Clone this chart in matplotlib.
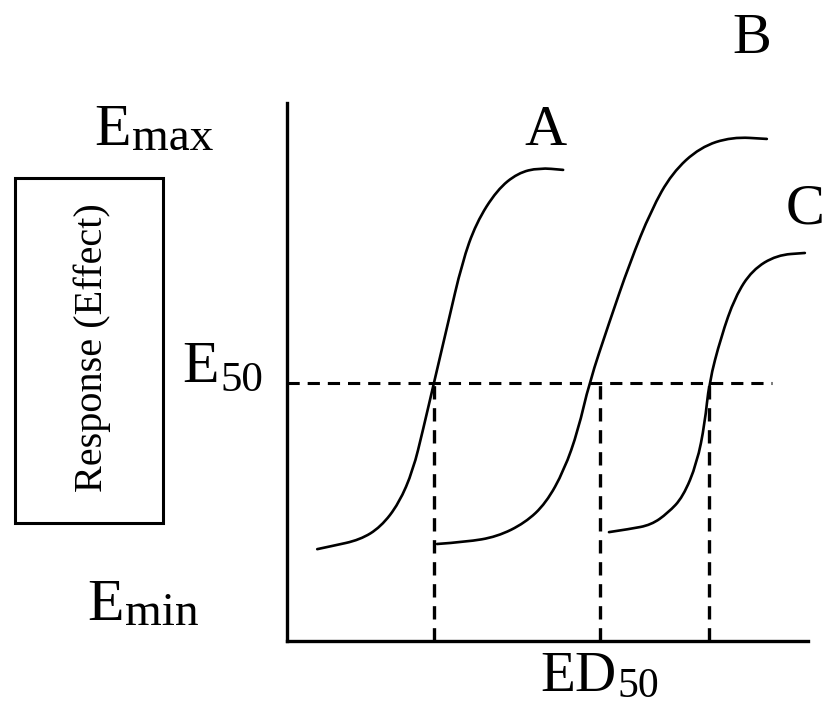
import matplotlib
matplotlib.use("Agg")
import matplotlib.pyplot as plt
from matplotlib.path import Path
from matplotlib.patches import PathPatch, Rectangle

plt.rcParams["font.family"] = ["Liberation Serif", "DejaVu Serif"]

# log dose vs response for three agonists
dose_a = [0.58, 0.86, 1.40, 1.80, 2.15, 2.42, 2.61, 2.82, 3.09, 3.36, 3.63, 4.03, 4.43, 4.84, 5.30]
resp_a = [17.8, 18.4, 19.6, 22.1, 26.7, 33.1, 40.9, 50.0, 61.6, 73.3, 81.0, 87.4, 90.7, 91.7, 91.3]

dose_b = [2.88, 3.44, 4.03, 4.57, 4.97, 5.32, 5.59, 5.80, 6.18, 6.58, 6.99, 7.39, 7.93, 8.54, 9.21]
resp_b = [18.8, 19.2, 20.2, 22.9, 26.7, 33.1, 40.9, 50.0, 61.6, 73.3, 83.5, 90.7, 95.7, 97.7, 97.3]

dose_c = [6.18, 6.58, 6.99, 7.31, 7.60, 7.87, 8.02, 8.10, 8.33, 8.60, 8.93, 9.40, 9.94]
resp_c = [21.1, 21.7, 22.5, 24.8, 27.9, 34.5, 42.2, 50.0, 58.9, 66.7, 71.9, 74.8, 75.2]

e50 = 50.0
e50_end = 9.31
ed50 = [2.82, 6.01, 8.10]

fig = plt.figure(figsize=(8.29, 7.07), dpi=100)
W, H = 829, 707
renderer = fig.canvas.get_renderer()


def fx(px):
    return px / W


def fy(py):
    return 1 - py / H


ax = fig.add_axes([fx(287), fy(641), fx(808) - fx(287), fy(103) - fy(641)])
ax.set_xlim(0, 10)
ax.set_ylim(0, (641 - 103) / 5.16)
for s in ["top", "right"]:
    ax.spines[s].set_visible(False)
for s in ["left", "bottom"]:
    ax.spines[s].set_linewidth(2.4)
ax.set_xticks([])
ax.set_yticks([])


def smooth_curve(x, y):
    # quadratic bezier through midpoints, so the sigmoid reads smooth
    pts = list(zip(x, y))
    verts = [pts[0]]
    codes = [Path.MOVETO]
    for i in range(1, len(pts) - 1):
        mx = (pts[i][0] + pts[i + 1][0]) / 2
        my = (pts[i][1] + pts[i + 1][1]) / 2
        verts += [pts[i], (mx, my)]
        codes += [Path.CURVE3, Path.CURVE3]
    verts.append(pts[-1])
    codes.append(Path.LINETO)
    return PathPatch(Path(verts, codes), fill=False, lw=1.9, color="black",
                     capstyle="round", zorder=3)


for dx, ry in [(dose_a, resp_a), (dose_b, resp_b), (dose_c, resp_c)]:
    ax.add_patch(smooth_curve(dx, ry))

dash = (0, (4, 2.6))
ax.plot([0, e50_end], [e50, e50], color="black", lw=2.2, linestyle=dash, zorder=2)
for d in ed50:
    ax.plot([d, d], [0, e50], color="black", lw=2.4, linestyle=dash, zorder=2)

# curve labels
fig.text(fx(752), fy(53), "B", fontsize=42, ha="center", va="baseline")
fig.text(fx(545), fy(145), "A", fontsize=42, ha="center", va="baseline")
fig.text(fx(786), fy(223), "C", fontsize=42, ha="left", va="baseline")


def sub_label(px, py, main, sub, size=43, subsize=34, drop=7, gap=2):
    t = fig.text(fx(px), fy(py), main, fontsize=size, ha="left", va="baseline")
    bb = t.get_window_extent(renderer)
    fig.text((bb.x1 + gap) / W, fy(py + drop), sub, fontsize=subsize,
             ha="left", va="baseline")


# response levels and dose label
sub_label(94, 145, "E", "max", drop=5)
sub_label(182, 382, "E", "50", subsize=31, drop=9, gap=2)
sub_label(87, 620, "E", "min", drop=5)
sub_label(540, 691, "ED", "50", size=41, subsize=30, drop=6, gap=1)

# boxed y-axis title
fig.patches.append(Rectangle((fx(15), fy(523)), fx(163) - fx(15), fy(178) - fy(523),
                             transform=fig.transFigure, fill=False, lw=2.2,
                             edgecolor="black"))
fig.text(fx(92), fy(348), "Response (Effect)", fontsize=29, rotation=90,
         ha="center", va="center")

fig.savefig("out.png", dpi=100)
